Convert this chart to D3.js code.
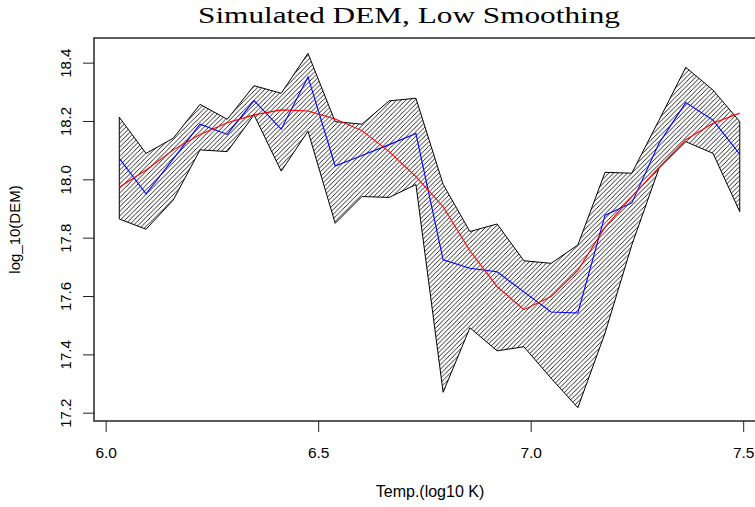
<!DOCTYPE html>
<html>
<head>
<meta charset="utf-8">
<script src="https://cdn.jsdelivr.net/npm/d3@7"></script>
<style>
  body { margin: 0; background: #fff; }
  svg { display: block; }
</style>
</head>
<body>
<div id="chart"></div>
<script>
// log10 temperature bins
const logT = [6.032, 6.095, 6.159, 6.222, 6.286, 6.349, 6.413, 6.476, 6.540, 6.603, 6.667, 6.730,
  6.794, 6.857, 6.921, 6.984, 7.048, 7.111, 7.175, 7.238, 7.302, 7.365, 7.429, 7.492]
// error band
const upper = [18.213, 18.089, 18.141, 18.257, 18.206, 18.321, 18.295, 18.432, 18.198, 18.189, 18.269, 18.278,
  17.983, 17.821, 17.847, 17.721, 17.712, 17.775, 18.024, 18.021, 18.203, 18.384, 18.306, 18.198]
const lower = [17.864, 17.829, 17.929, 18.101, 18.095, 18.221, 18.028, 18.165, 17.849, 17.941, 17.938, 17.982,
  17.270, 17.491, 17.412, 17.426, 17.318, 17.217, 17.473, 17.775, 18.038, 18.129, 18.089, 17.889]
// recovered DEM (blue)
const solved = [18.072, 17.950, 18.070, 18.189, 18.154, 18.270, 18.172, 18.351, 18.046, 18.082, 18.119, 18.157,
  17.724, 17.695, 17.683, 17.614, 17.545, 17.542, 17.877, 17.919, 18.124, 18.263, 18.203, 18.086]
// true DEM (red)
const model = [17.973, 18.032, 18.101, 18.154, 18.194, 18.221, 18.238, 18.234, 18.207, 18.167, 18.095, 18.009,
  17.906, 17.755, 17.632, 17.553, 17.598, 17.688, 17.836, 17.941, 18.041, 18.136, 18.192, 18.227]
const xTicks = [6.0, 6.5, 7.0, 7.5]
const yTicks = [17.2, 17.4, 17.6, 17.8, 18.0, 18.2, 18.4]

const W = 755, H = 507
const box = {left: 94, right: 764, top: 38, bottom: 421}
const sans = '"Liberation Sans", Arial, sans-serif'

const svg = d3.select('#chart').append('svg')
  .attr('width', W).attr('height', H)
  .style('font-family', sans)

const x = d3.scaleLinear().domain([5.9725, 7.549]).range([box.left, box.right])
const y = d3.scaleLinear().domain([17.1715, 18.4845]).range([box.bottom, box.top])

// hatch pattern, 45 degree lines
const step = 4.6
const pat = svg.append('defs').append('pattern')
  .attr('id', 'hatch')
  .attr('patternUnits', 'userSpaceOnUse')
  .attr('width', step).attr('height', step)
pat.append('path')
  .attr('d', `M0,${step}L${step},0M-1,1L1,-1M${step - 1},${step + 1}L${step + 1},${step - 1}`)
  .attr('stroke', '#000').attr('stroke-width', 0.85)

const rows = logT.map((t, i) => ({t, lo: lower[i], hi: upper[i], s: solved[i], m: model[i]}))

svg.append('path')
  .datum(rows)
  .attr('d', d3.area().x(d => x(d.t)).y0(d => y(d.lo)).y1(d => y(d.hi)))
  .attr('fill', 'url(#hatch)')
  .attr('stroke', '#000')
  .attr('stroke-width', 1)

svg.append('path')
  .datum(rows)
  .attr('d', d3.line().x(d => x(d.t)).y(d => y(d.s)))
  .attr('fill', 'none').attr('stroke', '#0000ff').attr('stroke-width', 1.1)

svg.append('path')
  .datum(rows)
  .attr('d', d3.line().x(d => x(d.t)).y(d => y(d.m)))
  .attr('fill', 'none').attr('stroke', '#ff0000').attr('stroke-width', 1.1)

// plot box
svg.append('rect')
  .attr('x', box.left).attr('y', box.top)
  .attr('width', box.right - box.left).attr('height', box.bottom - box.top)
  .attr('fill', 'none').attr('stroke', '#333').attr('stroke-width', 1.6)

// axes
const xAxis = svg.append('g')
  .attr('transform', `translate(0,${box.bottom})`)
  .call(d3.axisBottom(x).tickValues(xTicks).tickSize(11).tickFormat(d3.format('.1f')))
xAxis.select('.domain').remove()
xAxis.selectAll('line').attr('stroke', '#222')
xAxis.selectAll('text')
  .attr('y', 37).attr('dy', null)
  .attr('font-size', 15.5).attr('fill', '#000')
  .attr('font-family', sans)

const yAxis = svg.append('g')
  .attr('transform', `translate(${box.left},0)`)
  .call(d3.axisLeft(y).tickValues(yTicks).tickSize(11).tickFormat(d3.format('.1f')))
yAxis.select('.domain').remove()
yAxis.selectAll('line').attr('stroke', '#222')
yAxis.selectAll('text')
  .attr('x', null).attr('dy', null)
  .attr('transform', 'translate(-23,0) rotate(-90)')
  .attr('text-anchor', 'middle')
  .attr('font-size', 15).attr('fill', '#000')
  .attr('font-family', sans)

// titles
svg.append('text')
  .attr('x', 409).attr('y', 23)
  .attr('text-anchor', 'middle')
  .attr('font-family', '"Liberation Serif", "Times New Roman", serif')
  .attr('font-size', 24)
  .attr('textLength', 422).attr('lengthAdjust', 'spacingAndGlyphs')
  .text('Simulated DEM, Low Smoothing')

svg.append('text')
  .attr('x', 430).attr('y', 497)
  .attr('text-anchor', 'middle')
  .attr('font-size', 16)
  .text('Temp.(log10 K)')

svg.append('text')
  .attr('transform', `translate(20,${(box.top + box.bottom) / 2}) rotate(-90)`)
  .attr('text-anchor', 'middle')
  .attr('font-size', 15)
  .text('log_10(DEM)')
</script>
</body>
</html>
